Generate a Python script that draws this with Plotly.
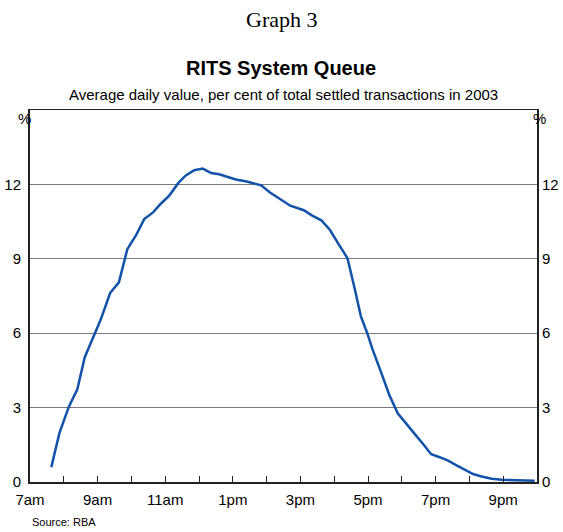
import plotly.graph_objects as go

hours = [7.63, 7.87, 8.15, 8.40, 8.62, 8.89, 9.09, 9.37, 9.63, 9.88, 10.13, 10.38,
         10.64, 10.87, 11.12, 11.39, 11.61, 11.86, 12.11, 12.36, 12.60, 12.85, 13.12,
         13.38, 13.61, 13.84, 14.09, 14.40, 14.70, 15.10, 15.35, 15.62, 15.87, 16.14,
         16.39, 16.59, 16.79, 16.97, 17.14, 17.38, 17.63, 17.88, 18.13, 18.38, 18.63,
         18.87, 19.12, 19.37, 19.62, 19.87, 20.11, 20.36, 20.66, 20.96, 21.36, 21.75, 21.93]
values = [0.6, 1.97, 3.04, 3.74, 5.03, 5.87, 6.54, 7.62, 8.05, 9.39, 9.93, 10.6,
          10.87, 11.22, 11.55, 12.06, 12.36, 12.57, 12.64, 12.46, 12.41, 12.30, 12.19,
          12.13, 12.06, 11.96, 11.68, 11.41, 11.14, 10.96, 10.74, 10.55, 10.17, 9.57,
          9.03, 7.89, 6.68, 6.03, 5.33, 4.45, 3.51, 2.77, 2.34, 1.94, 1.53,
          1.12, 1.0, 0.86, 0.67, 0.48, 0.32, 0.22, 0.13, 0.09, 0.07, 0.06, 0.05]

x_tick_vals = list(range(7, 23))
x_tick_text = ["7am", "", "9am", "", "11am", "", "1pm", "", "3pm", "", "5pm", "",
               "7pm", "", "9pm", ""]
y_tick_vals = [0, 3, 6, 9, 12]

FONT = "Liberation Sans, Arial, sans-serif"

L, R, T, B = 30, 26, 110, 50
W, H = 563, 532
plot_h = H - T - B
plot_w = W - L - R


def py(pix_y):
    return (H - B - pix_y) / plot_h


def px(pix_x):
    return (pix_x - L) / plot_w


fig = go.Figure()
fig.add_trace(go.Scatter(x=hours, y=values, mode="lines",
                         line=dict(color="#1252a8", width=2.5),
                         showlegend=False, hoverinfo="skip"))
fig.add_trace(go.Scatter(x=hours, y=values, mode="lines", yaxis="y2",
                         line=dict(color="rgba(255,255,255,0)", width=1), opacity=0,
                         showlegend=False, hoverinfo="skip"))

fig.update_layout(
    width=W, height=H,
    margin=dict(l=L, r=R, t=T, b=B, autoexpand=False),
    paper_bgcolor="white", plot_bgcolor="white",
    font=dict(family=FONT, size=14, color="black"),
    xaxis=dict(range=[7, 22], tickvals=x_tick_vals, ticktext=x_tick_text,
               ticks="inside", ticklen=6, tickcolor="#222", tickwidth=1,
               showgrid=False, zeroline=False, showline=True, linecolor="#222",
               linewidth=1.5, mirror=True, tickfont=dict(size=15), automargin=False,
               ticklabelstandoff=3),
    yaxis=dict(range=[0, 15], tickvals=y_tick_vals, showgrid=True,
               gridcolor="#7a7a7a", gridwidth=1, zeroline=False, showline=True,
               linecolor="#222", linewidth=2, mirror=True, ticks="",
               tickfont=dict(size=15), ticklabelstandoff=4, automargin=False),
    yaxis2=dict(range=[0, 15], tickvals=y_tick_vals, overlaying="y", side="right",
                showgrid=False, zeroline=False, showline=False, ticks="",
                tickfont=dict(size=15), ticklabelstandoff=4, automargin=False),
    annotations=[
        dict(text="Graph 3", x=px(281), y=py(19), yanchor="middle", xref="paper",
             yref="paper", showarrow=False,
             font=dict(family="Liberation Serif, serif", size=22)),
        dict(text="<b>RITS System Queue</b>", xref="paper", yref="paper",
             x=px(281), y=py(68), yanchor="middle", showarrow=False, font=dict(size=20)),
        dict(text="Average daily value, per cent of total settled transactions in 2003",
             xref="paper", yref="paper", x=px(283), y=py(94), yanchor="middle",
             showarrow=False, font=dict(size=15)),
        dict(text="%", xref="paper", yref="paper", x=px(16), y=py(118), yanchor="middle",
             showarrow=False, font=dict(size=15)),
        dict(text="%", xref="paper", yref="paper", x=px(548), y=py(118), yanchor="middle",
             showarrow=False, font=dict(size=15)),
        dict(text="Source: RBA", xref="paper", yref="paper", x=px(30), y=py(522),
             yanchor="middle", xanchor="left", showarrow=False, font=dict(size=11)),
    ],
)

fig.write_html("out.html", config={"staticPlot": True, "displayModeBar": False},
               post_script="document.body.style.margin='0';")
